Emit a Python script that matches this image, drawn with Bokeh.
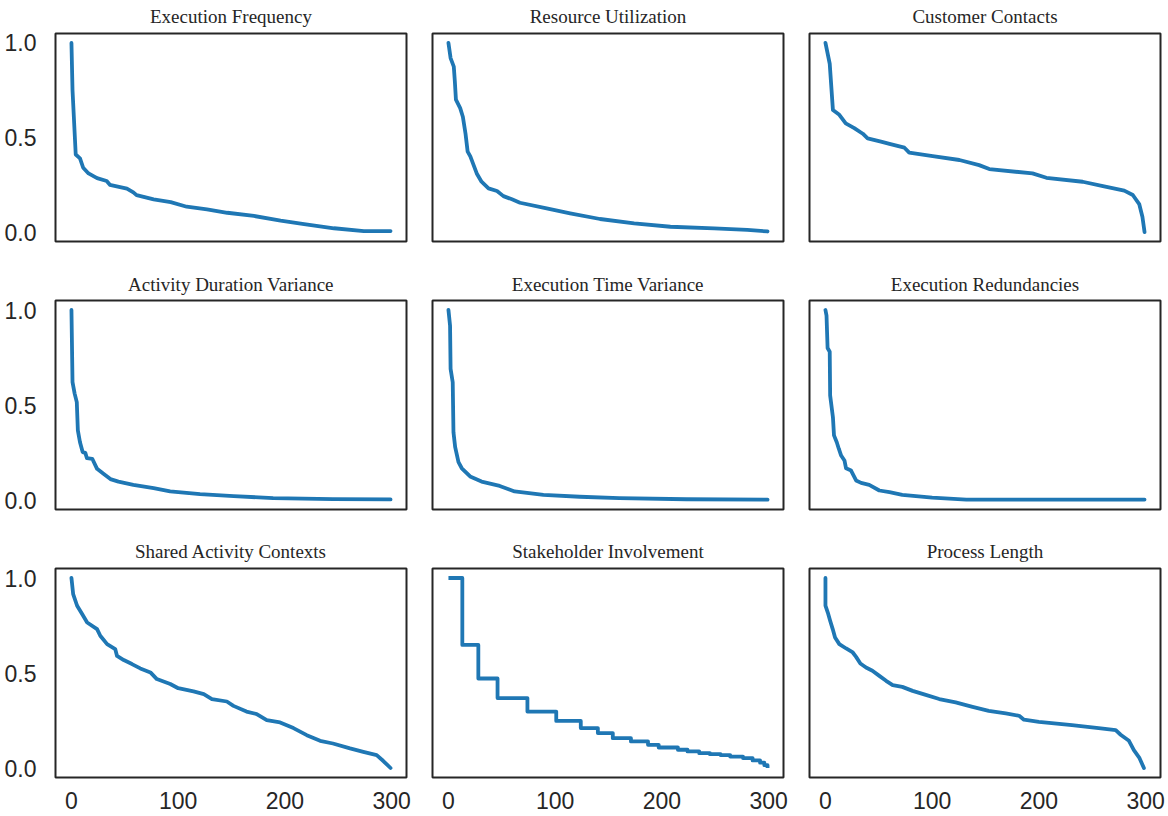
from bokeh.plotting import figure
from bokeh.layouts import gridplot
from bokeh.models import Range1d, FixedTicker, PrintfTickFormatter, Title
from bokeh.embed import file_html
from bokeh.resources import INLINE

# ---------------- data ----------------
titles = ["Execution Frequency", "Resource Utilization", "Customer Contacts",
          "Activity Duration Variance", "Execution Time Variance", "Execution Redundancies",
          "Shared Activity Contexts", "Stakeholder Involvement", "Process Length"]

x_ticks = [0, 100, 200, 300]
y_ticks = [0.0, 0.5, 1.0]

exec_freq_x = [0, 1, 4, 8, 11, 16, 24, 33, 36, 52, 58, 61, 77, 93, 108, 127, 146, 171, 196, 218, 246, 274, 299]
exec_freq_y = [1.0, 0.75, 0.41, 0.39, 0.34, 0.31, 0.285, 0.27, 0.25, 0.23, 0.21, 0.195, 0.173, 0.158, 0.134,
               0.12, 0.102, 0.085, 0.06, 0.042, 0.02, 0.005, 0.005]

res_util_x = [0, 2, 5, 6, 7, 11, 13.5, 16, 18, 20.5, 23.5, 26.5, 31, 37.5, 45.5, 51.5, 59.5, 67, 92, 114,
              142, 174, 208, 249, 280, 299]
res_util_y = [1.0, 0.92, 0.875, 0.795, 0.70, 0.655, 0.61, 0.52, 0.425, 0.40, 0.355, 0.31, 0.266, 0.231,
              0.217, 0.19, 0.173, 0.155, 0.125, 0.099, 0.069, 0.046, 0.028, 0.019, 0.011, 0.003]

cust_cont_x = [0, 4, 7, 13, 19, 27, 35, 39.5, 52, 60, 74, 78.5, 100.5, 125.5, 144, 153.5, 194, 207, 241,
               260, 280, 288, 294, 297, 299]
cust_cont_y = [1.0, 0.89, 0.645, 0.62, 0.575, 0.55, 0.52, 0.495, 0.478, 0.466, 0.446, 0.42, 0.402, 0.381,
               0.354, 0.333, 0.31, 0.287, 0.266, 0.243, 0.219, 0.196, 0.148, 0.081, 0.0]

act_dur_x = [0, 1, 3, 5, 6, 8, 10.5, 13, 14.5, 19.5, 24, 30, 36.5, 44, 58, 77, 92.5, 120.5, 152, 189, 245, 299]
act_dur_y = [1.0, 0.62, 0.56, 0.515, 0.366, 0.304, 0.252, 0.248, 0.22, 0.217, 0.164, 0.138, 0.11, 0.097,
             0.08, 0.062, 0.045, 0.031, 0.02, 0.01, 0.005, 0.003]

exec_time_x = [0, 1.5, 2, 4, 4.7, 6.3, 9.4, 12.5, 20.3, 31, 48, 62, 89, 123, 160, 223, 299]
exec_time_y = [1.0, 0.918, 0.69, 0.62, 0.357, 0.278, 0.199, 0.167, 0.124, 0.097, 0.074, 0.045, 0.027,
               0.017, 0.01, 0.004, 0.002]

exec_red_x = [0, 1, 2, 4, 4.4, 7, 8, 10.6, 12.5, 14.7, 17.8, 19.3, 24, 28.7, 33.4, 41, 50.5, 60, 72, 100,
              132, 299]
exec_red_y = [1.0, 0.97, 0.80, 0.78, 0.55, 0.436, 0.34, 0.304, 0.27, 0.234, 0.208, 0.167, 0.155, 0.103,
              0.09, 0.08, 0.05, 0.041, 0.027, 0.012, 0.002, 0.002]

shared_x = [0, 1.6, 5.3, 10, 14.7, 24, 27, 33.4, 41, 42.7, 49, 56.7, 64.5, 74, 80, 92.6, 100, 114.4, 124,
            131.6, 145.6, 151.8, 164, 173.6, 183, 195.5, 208, 220.5, 233, 245, 261, 273.5, 286, 292, 299]
shared_y = [1.0, 0.915, 0.854, 0.81, 0.766, 0.731, 0.696, 0.652, 0.626, 0.59, 0.568, 0.547, 0.524, 0.503,
            0.468, 0.442, 0.42, 0.403, 0.389, 0.363, 0.35, 0.327, 0.297, 0.284, 0.252, 0.24, 0.21, 0.173,
            0.143, 0.129, 0.103, 0.085, 0.068, 0.038, 0.0]

stake_x = [0, 13, 28, 46, 74, 101, 124, 140, 154, 171, 187, 197, 215, 224, 235, 245, 255, 264, 276, 285,
           292, 296, 299]
stake_y = [1.0, 0.648, 0.471, 0.368, 0.297, 0.248, 0.21, 0.184, 0.157, 0.14, 0.122, 0.108, 0.096, 0.087,
           0.078, 0.073, 0.068, 0.06, 0.052, 0.04, 0.028, 0.015, 0.0]

proc_len_x = [0, 0, 2.2, 4.4, 6.8, 9, 13, 19.4, 25.6, 28.7, 32.7, 38, 44, 50.5, 56.8, 63, 72, 81.7, 94,
              106.6, 122, 137.8, 153, 169, 181.5, 186, 200, 231, 256, 272, 276.6, 284.4, 289, 294, 298.4]
proc_len_y = [1.0, 0.854, 0.818, 0.775, 0.731, 0.687, 0.652, 0.629, 0.608, 0.585, 0.55, 0.529, 0.512,
              0.485, 0.459, 0.436, 0.427, 0.406, 0.385, 0.363, 0.345, 0.322, 0.301, 0.287, 0.275, 0.254,
              0.243, 0.226, 0.21, 0.199, 0.175, 0.143, 0.094, 0.055, 0.0]

series = [(exec_freq_x, exec_freq_y), (res_util_x, res_util_y), (cust_cont_x, cust_cont_y),
          (act_dur_x, act_dur_y), (exec_time_x, exec_time_y), (exec_red_x, exec_red_y),
          (shared_x, shared_y), (stake_x, stake_y), (proc_len_x, proc_len_y)]
step_series = {7}

# ---------------- layout / style ----------------
LINE = "#1f77b4"
DARK = "#262626"
col_w = [419, 377, 370]
col_left = [55, 13, 13]
col_right = [13, 13, 6]
row_h = [268, 268, 278]
row_top = [33, 32, 32]
row_bottom = [27, 27, 37]
spacer_standoff = [4, 3, 4]   # blank spacer between frame and title

rows = []
for r in range(3):
    row_figs = []
    for c in range(3):
        i = r * 3 + c
        p = figure(width=col_w[c], height=row_h[r],
                   x_range=Range1d(-14.95, 313.95), y_range=Range1d(-0.05, 1.05),
                   output_backend="svg", toolbar_location=None,
                   min_border_left=col_left[c], min_border_right=col_right[c],
                   min_border_top=row_top[r], min_border_bottom=row_bottom[r],
                   background_fill_color="white", border_fill_color="white")
        p.title.text = titles[i]
        p.title.text_font = "Liberation Serif"
        p.title.text_font_size = "19px"
        p.title.text_font_style = "normal"
        p.title.text_color = DARK
        p.title.align = "center"
        p.title.standoff = 0
        # tiny blank title added later -> sits between the frame and the real title
        p.add_layout(Title(text=" ", text_font_size="1px", standoff=spacer_standoff[r]), "above")
        p.outline_line_color = DARK
        p.outline_line_width = 2
        p.xgrid.visible = False
        p.ygrid.visible = False
        for ax in (p.xaxis, p.yaxis):
            ax.axis_line_color = None
            ax.major_tick_line_color = None
            ax.minor_tick_line_color = None
            ax.major_label_text_font = "Liberation Sans"
            ax.major_label_text_font_size = "23px"
            ax.major_label_text_color = DARK
        p.xaxis.ticker = FixedTicker(ticks=x_ticks)
        p.yaxis.ticker = FixedTicker(ticks=y_ticks)
        p.yaxis.formatter = PrintfTickFormatter(format="%.1f")
        p.xaxis.major_label_standoff = 8
        p.yaxis.major_label_standoff = 13
        if r != 2:
            p.xaxis.visible = False
        if c != 0:
            p.yaxis.visible = False
        xs, ys = series[i]
        if i in step_series:
            p.step(xs, ys, mode="after", line_color=LINE, line_width=3.8, line_join="round")
        else:
            p.line(xs, ys, line_color=LINE, line_width=3.8, line_join="round", line_cap="round")
        row_figs.append(p)
    rows.append(row_figs)

grid = gridplot(rows, toolbar_location=None)

open("out.html", "w").write(file_html(grid, INLINE))
